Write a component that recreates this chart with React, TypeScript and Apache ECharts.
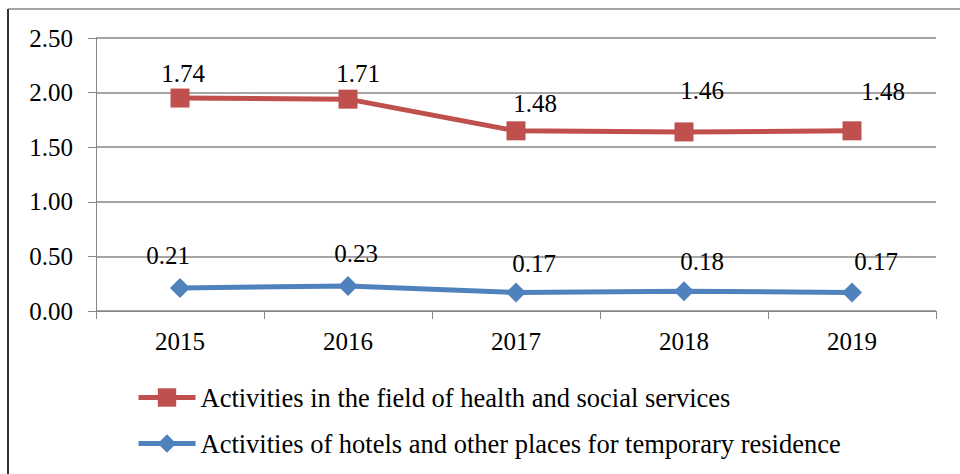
import React, { useEffect, useRef } from "react";
import * as echarts from "echarts";

const years = ["2015", "2016", "2017", "2018", "2019"];
const healthName = "Activities in the field of health and social services";
const hotelsName = "Activities of hotels and other places for temporary residence";
const healthValues = [1.74, 1.71, 1.48, 1.46, 1.48];
const hotelsValues = [0.21, 0.23, 0.17, 0.18, 0.17];
const healthLabelOffsets = [[3, -25], [10, -26], [19, -27], [18, -41], [31, -39]];
const hotelsLabelOffsets = [[-12, -33], [8, -32], [18, -29], [18, -30], [24, -31]];

const FONT = "'Liberation Serif', 'Times New Roman', serif";

export default function App() {
  const ref = useRef<HTMLDivElement>(null);
  useEffect(() => {
    if (!ref.current) return;
    const chart = echarts.init(ref.current, undefined, { renderer: "svg" });
    const labelBase = {
      show: true,
      position: "inside",
      fontFamily: FONT,
      fontSize: 25,
      color: "#000",
      formatter: (p: any) => Number(p.value).toFixed(2),
    };
    chart.setOption({
      animation: false,
      backgroundColor: "#fff",
      textStyle: { fontFamily: FONT },
      grid: { left: 96, right: 24, top: 38, bottom: 163 },
      legend: {
        orient: "vertical",
        left: 131,
        top: 379,
        itemWidth: 57,
        itemHeight: 23,
        itemGap: 19,
        lineStyle: { width: 5 },
        textStyle: { fontFamily: FONT, fontSize: 26.5, color: "#000" },
        data: [healthName, hotelsName],
      },
      xAxis: {
        type: "category",
        data: years,
        boundaryGap: true,
        axisLine: { lineStyle: { color: "#868686", width: 1 } },
        axisTick: { show: true, length: 8, lineStyle: { color: "#868686" } },
        axisLabel: { fontFamily: FONT, fontSize: 25, color: "#000", margin: 18 },
      },
      yAxis: {
        type: "value",
        min: 0,
        max: 2.5,
        interval: 0.5,
        axisLine: { show: true, lineStyle: { color: "#868686", width: 1 } },
        axisTick: { show: true, length: 8, lineStyle: { color: "#868686" } },
        splitLine: { lineStyle: { color: "#898989", width: 1.5 } },
        axisLabel: {
          fontFamily: FONT,
          fontSize: 25,
          color: "#000",
          margin: 23,
          formatter: (v: number) => v.toFixed(2),
        },
      },
      series: [
        {
          name: hotelsName,
          type: "line",
          stack: "total",
          data: hotelsValues.map((v, i) => ({
            value: v,
            label: { offset: hotelsLabelOffsets[i] },
          })),
          symbol: "diamond",
          symbolSize: 20,
          lineStyle: { color: "#4F81BD", width: 5 },
          itemStyle: { color: "#4F81BD" },
          label: labelBase,
          z: 3,
        },
        {
          name: healthName,
          type: "line",
          stack: "total",
          data: healthValues.map((v, i) => ({
            value: v,
            label: { offset: healthLabelOffsets[i] },
          })),
          symbol: "rect",
          symbolSize: 19,
          lineStyle: { color: "#C0504D", width: 5 },
          itemStyle: { color: "#C0504D" },
          label: labelBase,
          z: 3,
        },
      ],
      graphic: [
        {
          type: "line",
          shape: { x1: 8, y1: 9, x2: 960, y2: 9 },
          style: { stroke: "#888", lineWidth: 1.5 },
        },
        {
          type: "line",
          shape: { x1: 8, y1: 9, x2: 8, y2: 474 },
          style: { stroke: "#333", lineWidth: 2 },
        },
      ],
    });
    return () => chart.dispose();
  }, []);
  return (
    <div
      ref={ref}
      style={{ position: "absolute", left: 0, top: 0, width: 960, height: 474 }}
    />
  );
}
